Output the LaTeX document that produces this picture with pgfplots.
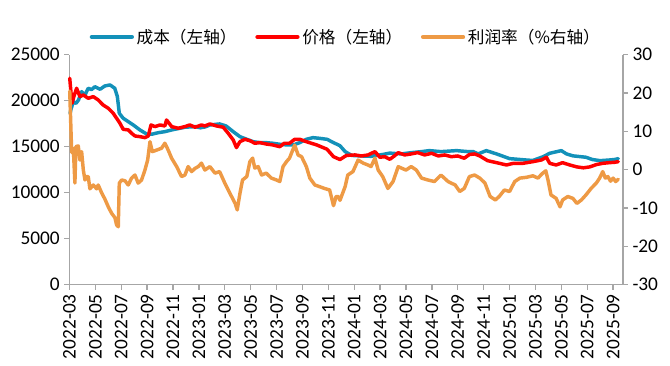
\documentclass[border=0pt]{standalone}
\usepackage{fontspec}
\setmainfont{Carlito}
\newfontfamily\cjk{Noto Sans CJK SC}
\usepackage{pgfplots}
\usepackage{pgfplotstable}
\pgfplotsset{compat=1.18}
\definecolor{cblue}{HTML}{1391B9}
\definecolor{cred}{HTML}{FF0000}
\definecolor{corange}{HTML}{EE9A45}
\definecolor{axgray}{HTML}{A6A6A6}

\pgfplotstableread{
m v
0.05 18600
0.1 18980
0.3 19890
0.5 19700
0.7 20080
0.94 20980
1.2 20620
1.45 21350
1.7 21200
1.97 21520
2.36 21240
2.74 21600
3.13 21710
3.5 21350
3.7 20440
3.85 18630
4.15 18090
4.54 17720
4.93 17360
5.44 16820
5.96 16380
6.35 16350
6.86 16520
7.37 16630
7.9 16820
8.4 16960
8.92 17110
9.7 17180
10.1 17050
10.5 17150
10.85 17360
11.6 17470
12.1 17250
12.65 16630
13.17 16090
13.7 15800
14.2 15540
14.7 15440
15.2 15440
15.7 15370
16.25 15260
16.77 15190
17.3 15190
17.8 15440
18.3 15800
18.8 15980
19.3 15910
19.9 15800
20.4 15440
20.9 15100
21.3 14460
21.8 14050
22.4 14000
23.3 13950
24.2 14150
24.75 14300
25.65 14210
26.4 14350
27.2 14460
27.8 14570
28.7 14460
29.9 14570
30.8 14460
31.2 14460
31.57 14210
32.2 14570
33.0 14210
34.0 13700
35.3 13550
35.8 13500
36.6 13910
37.1 14280
38.0 14570
38.4 14210
38.9 14000
39.9 13850
40.4 13600
41.0 13480
41.7 13550
42.1 13600
42.4 13700
}\costtable

\pgfplotstableread{
m v
0.02 22440
0.1 21160
0.2 19720
0.35 20500
0.55 21350
0.81 20440
1.07 20620
1.45 20260
1.84 20440
2.22 20080
2.6 19530
3.0 19170
3.38 18630
3.64 18090
3.9 17540
4.15 16890
4.54 16820
4.8 16460
5.06 16160
5.44 16090
5.83 15980
6.09 16160
6.3 17360
6.6 17180
7.0 17360
7.37 17250
7.5 17900
7.9 17180
8.4 17000
8.92 17180
9.3 17360
9.7 17110
10.2 17360
10.46 17250
10.85 17470
11.37 17250
11.88 17110
12.26 16460
12.65 15730
12.9 14900
13.17 15540
13.55 15800
13.94 15650
14.32 15370
14.7 15440
15.2 15290
15.7 15190
16.25 15000
16.6 15370
17.0 15370
17.4 15800
17.8 15800
18.3 15540
19.1 15190
19.9 14720
20.4 13910
20.9 13600
21.4 14050
22.05 14100
22.56 13990
23.07 14100
23.6 14460
23.98 13850
24.36 13910
24.75 13630
25.1 13990
25.4 14350
25.9 14100
26.4 14210
26.9 14350
27.45 14100
27.97 14280
28.5 13990
29.0 14100
29.5 13910
30.0 13990
30.5 13740
30.9 14150
31.3 14210
31.7 13990
32.3 13480
33.0 13260
33.76 13010
34.3 13190
35.04 13190
35.8 13370
36.46 13550
36.85 13850
37.1 13190
37.6 13010
38.1 13260
38.65 13010
39.2 12800
39.7 12700
40.2 12800
40.7 13050
41.2 13190
41.7 13260
42.1 13300
42.4 13370
}\pricetable

\pgfplotstableread{
m v
0.02 20.5
0.1 12.0
0.17 4.5
0.3 5.5
0.42 -3.5
0.5 6.0
0.68 6.2
0.81 2.5
0.94 4.7
1.07 -0.1
1.2 -2.7
1.33 -1.8
1.45 -1.8
1.58 -5.0
1.84 -4.0
2.1 -5.0
2.22 -4.0
2.48 -6.0
2.74 -7.7
3.0 -9.7
3.26 -11.4
3.51 -12.5
3.64 -14.4
3.77 -14.9
3.85 -3.5
4.03 -2.7
4.29 -2.9
4.54 -4.0
4.8 -2.2
5.06 -1.4
5.31 -3.5
5.57 -2.7
5.83 -0.1
6.04 2.5
6.22 7.3
6.4 4.7
6.73 5.1
7.12 5.6
7.37 6.9
7.63 5.1
7.89 3.0
8.28 0.8
8.66 -1.8
8.92 -1.4
9.17 0.8
9.44 -0.5
9.69 0.3
9.95 0.8
10.2 1.7
10.46 -0.1
10.85 0.8
11.24 -0.9
11.6 -0.5
12.0 -3.5
12.4 -6.2
12.8 -8.8
12.96 -10.5
13.17 -6.2
13.37 -2.7
13.7 -1.8
13.94 2.1
14.15 3.0
14.32 0.4
14.58 0.8
14.84 -1.4
15.2 -0.9
15.6 -2.2
16.0 -2.7
16.25 -3.1
16.5 0.8
16.77 2.1
17.0 3.0
17.4 6.4
17.67 3.8
17.93 3.4
18.3 0.8
18.57 -2.2
18.96 -4.0
19.3 -4.4
19.7 -4.9
20.1 -5.3
20.4 -9.4
20.6 -7.0
20.76 -7.0
20.9 -8.0
21.1 -6.2
21.3 -4.4
21.5 -1.4
21.9 -0.5
22.3 2.5
22.7 1.7
23.07 1.2
23.3 0.8
23.6 3.0
23.85 -0.1
24.2 -1.8
24.6 -4.9
25.0 -3.1
25.4 0.8
25.65 0.4
26.0 -0.1
26.4 0.8
26.8 -0.1
27.2 -2.2
27.7 -2.7
28.2 -3.1
28.7 -1.4
29.25 -3.1
29.8 -4.0
30.15 -5.7
30.5 -4.9
30.9 -1.8
31.3 -1.4
31.7 -2.2
32.1 -3.5
32.5 -7.0
32.9 -7.9
33.2 -7.0
33.6 -5.3
34.0 -5.7
34.4 -3.1
34.8 -2.2
35.3 -2.0
35.8 -1.6
36.2 -2.2
36.5 -1.1
36.8 -0.3
36.97 -2.7
37.2 -6.6
37.6 -7.5
37.9 -9.7
38.1 -7.9
38.5 -7.0
38.9 -7.5
39.2 -8.8
39.55 -7.9
39.9 -6.6
40.3 -4.9
40.7 -3.5
40.96 -2.2
41.2 -0.5
41.4 -2.2
41.6 -1.8
41.8 -3.0
42.0 -2.2
42.2 -3.1
42.4 -2.5
}\profittable

\pgfplotsset{
  base/.style={
    at={(0pt,0pt)}, anchor=south west,
    width=415pt, height=172.5pt, scale only axis,
    xmin=0, xmax=42.75,
    tick align=outside, major tick length=3.75pt,
    every tick/.style={axgray, line width=1pt},
    axis line style={axgray, line width=1.2pt, -},
    tick label style={font=\fontsize{14.5}{16}\selectfont, black},
    /pgf/number format/assume math mode=true,
    /pgf/number format/1000 sep={},
    scaled y ticks=false,
    clip=false,
  },
  plotline/.style={line width=2.6pt, line join=round, line cap=round},
}

\begin{document}
\begin{tikzpicture}
\path[use as bounding box] (-52.1pt,-61pt) rectangle (450.4pt,213.5pt);
\begin{axis}[base,
  ymin=0, ymax=25000,
  axis x line*=bottom, axis y line*=left,
  xtick={0,2,...,42},
  xticklabels={2022-03,2022-05,2022-07,2022-09,2022-11,2023-01,2023-03,2023-05,2023-07,2023-09,2023-11,2024-01,2024-03,2024-05,2024-07,2024-09,2024-11,2025-01,2025-03,2025-05,2025-07,2025-09},
  xticklabel style={rotate=90, anchor=east},
  ytick={0,5000,...,25000},
]
\addplot[cblue, plotline] table[x=m, y=v] {\costtable};
\addplot[cred, plotline] table[x=m, y=v] {\pricetable};
\end{axis}
\begin{axis}[base,
  ymin=-30, ymax=30,
  axis y line*=right, axis x line=none,
  ytick={-30,-20,...,30},
  legend columns=3,
  legend style={draw=none, fill=none, at={(0.5,1)}, anchor=south, yshift=3pt,
    font=\cjk\fontsize{12.5}{14}\selectfont,
    /tikz/every even column/.append style={column sep=12pt}},
  legend image code/.code={\draw[#1, line width=3.2pt, line cap=round] (0pt,0pt) -- (30pt,0pt);},
]
\addlegendimage{cblue}
\addlegendentry{成本（左轴）}
\addlegendimage{cred}
\addlegendentry{价格（左轴）}
\addplot[corange, plotline] table[x=m, y=v] {\profittable};
\addlegendentry{利润率（\%右轴）}
\end{axis}
\end{tikzpicture}
\end{document}
